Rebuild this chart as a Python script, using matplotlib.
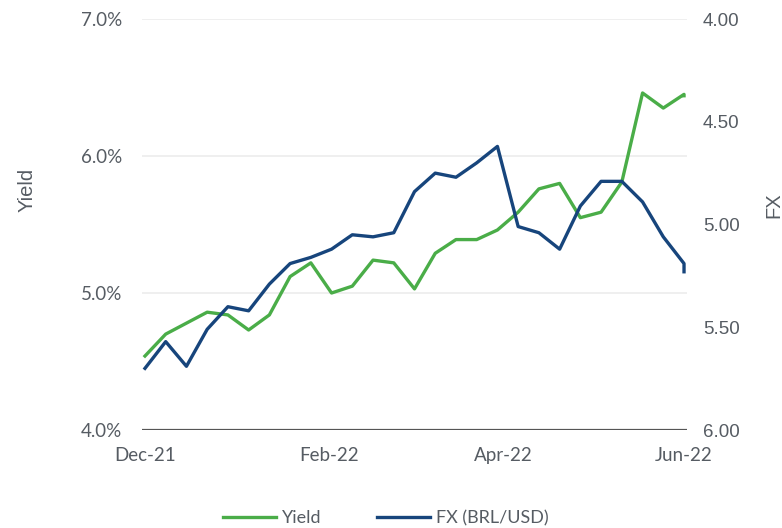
import matplotlib

matplotlib.use("Agg")
import matplotlib.dates as mdates
import matplotlib.pyplot as plt
import pandas as pd
from matplotlib.ticker import FuncFormatter

plt.rcParams["font.family"] = ["Lato", "DejaVu Sans"]

# weekly observations, last one a day after the final weekly point
dates = list(pd.date_range("2021-12-01", periods=27, freq="7D")) + [pd.Timestamp("2022-06-01")]

yield_pct = [4.54, 4.70, 4.78, 4.86, 4.84, 4.73, 4.84, 5.12, 5.22, 5.00,
             5.05, 5.24, 5.22, 5.03, 5.29, 5.39, 5.39, 5.46, 5.59, 5.76,
             5.80, 5.55, 5.59, 5.81, 6.46, 6.35, 6.45, 6.44]
fx_brl_usd = [5.70, 5.57, 5.69, 5.51, 5.40, 5.42, 5.29, 5.19, 5.16, 5.12,
              5.05, 5.06, 5.04, 4.84, 4.75, 4.77, 4.70, 4.62, 5.01, 5.04,
              5.12, 4.91, 4.79, 4.79, 4.89, 5.06, 5.19, 5.23]

x_ticks = ["2021-12-01", "2022-02-01", "2022-04-01", "2022-06-01"]
yield_ticks = [4.0, 5.0, 6.0, 7.0]
fx_ticks = [4.0, 4.5, 5.0, 5.5, 6.0]

GREEN = "#4aad48"
BLUE = "#17457c"
TEXT = "#565c63"
ARIAL = ["Liberation Sans", "DejaVu Sans"]

fig = plt.figure(figsize=(7.82, 5.28), dpi=100)
ax = fig.add_axes([0.1816, 0.1856, 0.6969, 0.7784])
ax2 = ax.twinx()

ax.plot(dates, yield_pct, color=GREEN, lw=2.4, label="Yield", zorder=3)
ax2.plot(dates, fx_brl_usd, color=BLUE, lw=2.4, label="FX (BRL/USD)", zorder=3)

ax.set_ylim(4.0, 7.0)
ax.set_yticks(yield_ticks)
ax.yaxis.set_major_formatter(FuncFormatter(lambda v, _: f"{v:.1f}%"))
ax2.set_ylim(6.0, 4.0)
ax2.set_yticks(fx_ticks)
ax2.yaxis.set_major_formatter(FuncFormatter(lambda v, _: f"{v:.2f}"))

ax.set_xlim(pd.Timestamp("2021-11-30"), pd.Timestamp("2022-06-02"))
ax.set_xticks([pd.Timestamp(t) for t in x_ticks])
ax.xaxis.set_major_formatter(mdates.DateFormatter("%b-%y"))

ax.grid(axis="y", color="#ececec", lw=1.2, zorder=0)
ax.set_axisbelow(True)
for a in (ax, ax2):
    for side in ("top", "left", "right", "bottom"):
        a.spines[side].set_visible(False)
    a.tick_params(length=0, colors=TEXT)
ax.axhline(4.0, color="#555555", lw=1.6, zorder=2)
ax.tick_params(axis="y", pad=14.4, labelsize=13.5)
ax.tick_params(axis="x", pad=12.5, labelsize=13.5)
ax2.tick_params(axis="y", pad=11.5, labelsize=13.5)
for lbl in ax2.get_yticklabels():
    lbl.set_fontfamily(ARIAL)

fig.text(0.034, 0.64, "Yield", rotation=90, ha="center", va="center",
         fontsize=14.5, color=TEXT, family=ARIAL)
fig.text(0.99, 0.612, "FX", rotation=90, ha="center", va="center",
         fontsize=14.5, color=TEXT, family=ARIAL)

handles = ax.get_lines()[:1] + ax2.get_lines()
fig.legend(handles, [h.get_label() for h in handles], loc="center",
           bbox_to_anchor=(0.493, 0.019), ncol=2, frameon=False, fontsize=13,
           handlelength=2.95, handletextpad=0.3, columnspacing=3.1,
           labelcolor=TEXT, borderpad=0)

fig.savefig("out.png", dpi=100)
